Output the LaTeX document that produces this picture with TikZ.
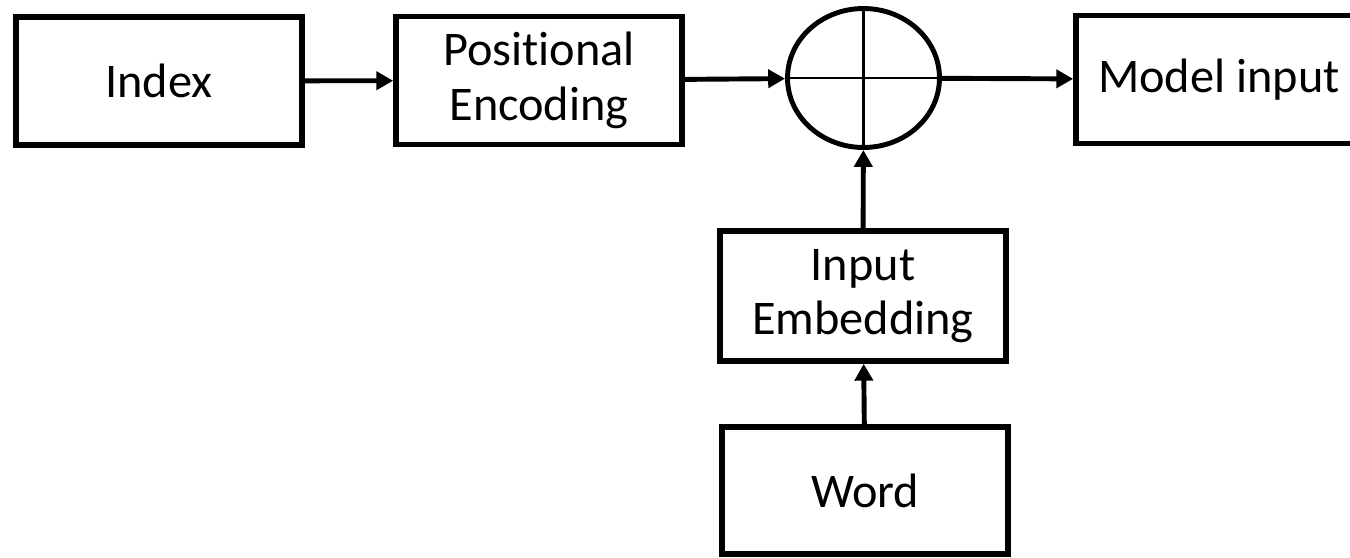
\documentclass[tikz,border=0pt]{standalone}
\usepackage{fontspec}
\setmainfont{Carlito}[Ligatures=CommonOff]
\usetikzlibrary{arrows.meta,shapes.geometric}

\begin{document}
\begin{tikzpicture}[x=0.02cm, y=-0.02cm,
    block/.style={draw, line width=3.2pt, minimum width=5.72cm, minimum height=2.56cm,
        inner sep=0pt, align=center, font=\fontsize{27.5}{31}\selectfont},
    flow/.style={-{Triangle[length=9.6pt, width=10.2pt]}, line width=2.8pt}]
    \useasboundingbox (0,0) rectangle (1350,558);
    % top row
    \node[block] (idx) at (159,81) {Index};
    \node[block] (pe) at (539,80.5) {Positional\\Encoding};
    \node[draw, ellipse, line width=2.8pt, minimum width=3.04cm, minimum height=2.78cm,
        inner sep=0pt] (sum) at (863.5,78) {};
    \draw[line width=1.5pt] (sum.north) -- (sum.south);
    \draw[line width=1.5pt] (sum.west) -- (sum.east);
    \node[block] (out) at (1219,79.5) {Model input};
    % embedding branch
    \node[block, minimum height=2.6cm] (emb) at (863,296) {Input\\Embedding};
    \node[block, minimum height=2.54cm] (word) at (865,490.5) {Word};
    % connectors
    \draw[flow] (idx) -- (pe);
    \draw[flow] (pe) -- (sum);
    \draw[flow] (sum) -- (out);
    \draw[flow] (emb) -- (sum);
    \draw[flow] (word) -- (emb);
\end{tikzpicture}
\end{document}
